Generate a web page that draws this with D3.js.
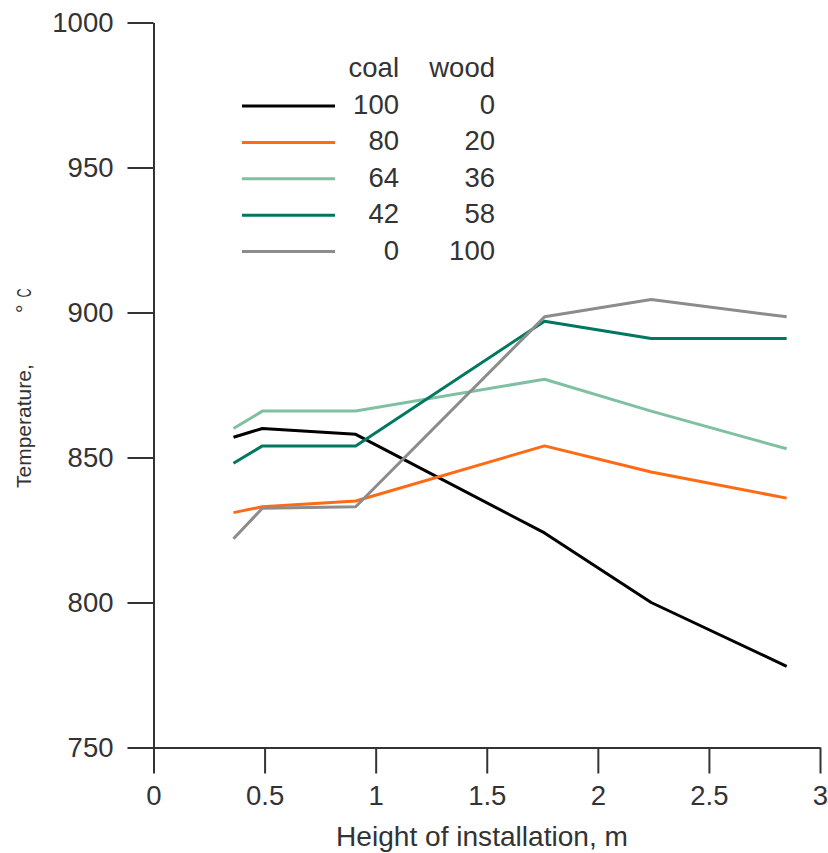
<!DOCTYPE html>
<html>
<head>
<meta charset="utf-8">
<script src="https://cdn.jsdelivr.net/npm/d3@7"></script>
<style>
  html, body { margin: 0; padding: 0; background: #ffffff; }
  svg { display: block; }
  text { font-family: "Liberation Sans", Arial, sans-serif; fill: #333; }
</style>
</head>
<body>
<script>
// ---- data ----
const heights = [0.36, 0.49, 0.91, 1.76, 2.24, 2.85];
const coalShare = [100, 80, 64, 42, 0];
const woodShare = [0, 20, 36, 58, 100];
const tempCoal100 = [857, 860, 858, 824, 800, 778];
const tempCoal80 = [831, 833, 835, 854, 845, 836];
const tempCoal64 = [860, 866, 866, 877, 866, 853];
const tempCoal42 = [848, 854, 854, 897, 891, 891];
const tempCoal0 = [822, 832.5, 833, 898.5, 904.5, 898.5];
const xTicks = [0, 0.5, 1, 1.5, 2, 2.5, 3];
const yTicks = [750, 800, 850, 900, 950, 1000];
const seriesColors = ["#000000", "#ff6a14", "#80c0a2", "#007860", "#8c8c8c"];

const series = [tempCoal100, tempCoal80, tempCoal64, tempCoal42, tempCoal0].map((vals, i) => ({
  coal: coalShare[i], wood: woodShare[i], color: seriesColors[i],
  points: vals.map((v, j) => ({ x: heights[j], y: v }))
}));

const W = 828, H = 853;
const FS = 27.5;
const svg = d3.select("body").append("svg").attr("width", W).attr("height", H);

const x = d3.scaleLinear().domain([0, 3]).range([153.5, 820]);
const y = d3.scaleLinear().domain([750, 1000]).range([747.5, 22.5]);

const fmt = d => String(d);

// x axis
const gx = svg.append("g").attr("transform", `translate(0,${y(750)})`)
  .call(d3.axisBottom(x).tickValues(xTicks).tickFormat(fmt).tickSize(26).tickSizeOuter(0).tickPadding(12));
// y axis
const gy = svg.append("g").attr("transform", `translate(${x(0)},0)`)
  .call(d3.axisLeft(y).tickValues(yTicks).tickFormat(fmt).tickSize(26).tickSizeOuter(0).tickPadding(14));

[gx, gy].forEach(g => {
  g.select(".domain").attr("stroke", "#333").attr("stroke-width", 2);
  g.selectAll(".tick line").attr("stroke", "#333").attr("stroke-width", 2);
  g.selectAll(".tick text").attr("font-size", FS).attr("fill", "#333")
    .attr("font-family", "Liberation Sans, Arial, sans-serif");
});

// axis titles
svg.append("text").attr("x", 336).attr("y", 846)
  .attr("font-size", FS).attr("textLength", 292).attr("lengthAdjust", "spacingAndGlyphs")
  .text("Height of installation, m");
svg.append("text").attr("transform", "translate(31,488) rotate(-90)")
  .attr("font-size", 21).text("Temperature,");
svg.append("text").attr("transform", "translate(31,313) rotate(-90)")
  .attr("font-size", 21).text("°");
svg.append("text").attr("transform", "translate(31,297.5) rotate(-90) scale(0.6,1)")
  .attr("font-size", 21).text("C");

// lines
const line = d3.line().x(d => x(d.x)).y(d => y(d.y));
svg.append("g").selectAll("path").data(series).join("path")
  .attr("d", d => line(d.points))
  .attr("fill", "none").attr("stroke", d => d.color).attr("stroke-width", 3)
  .attr("stroke-linejoin", "round");

// legend
const lg = svg.append("g");
lg.append("text").attr("x", 399).attr("y", 77).attr("text-anchor", "end").attr("font-size", FS).text("coal");
lg.append("text").attr("x", 495).attr("y", 77).attr("text-anchor", "end").attr("font-size", FS).text("wood");
const rows = lg.selectAll("g.row").data(series).join("g").attr("class", "row")
  .attr("transform", (d, i) => `translate(0,${i * 36.4})`);
rows.append("line").attr("x1", 242).attr("x2", 335).attr("y1", 106).attr("y2", 106)
  .attr("stroke", d => d.color).attr("stroke-width", 3);
rows.append("text").attr("x", 399).attr("y", 114).attr("text-anchor", "end").attr("font-size", FS).text(d => d.coal);
rows.append("text").attr("x", 495).attr("y", 114).attr("text-anchor", "end").attr("font-size", FS).text(d => d.wood);
</script>
</body>
</html>
